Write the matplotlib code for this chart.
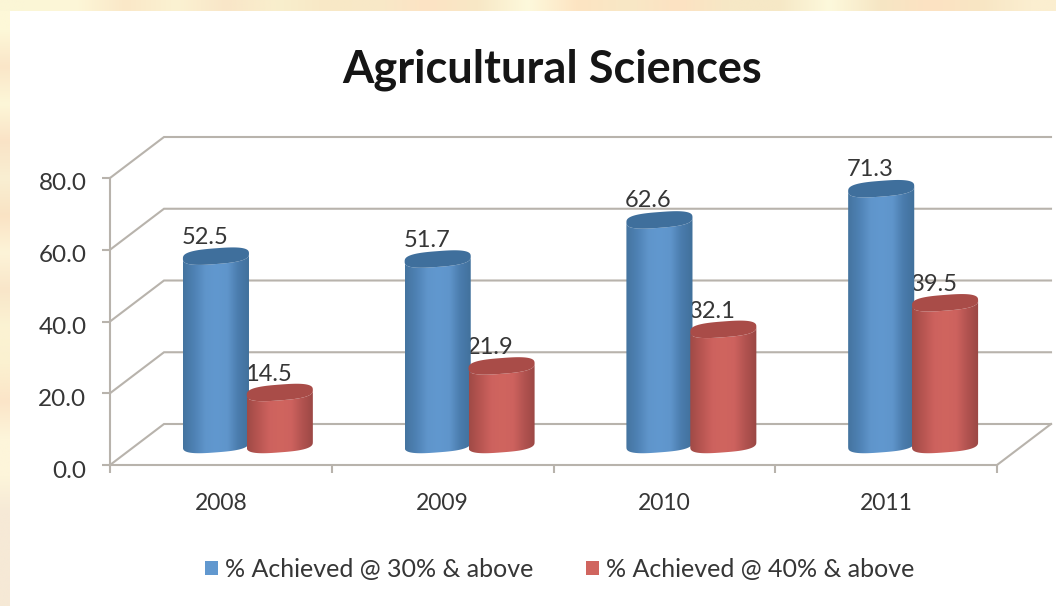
import numpy as np
import matplotlib
matplotlib.use('Agg')
from matplotlib import pyplot as plt
from matplotlib.colors import LinearSegmentedColormap, to_rgb
from matplotlib.patches import Patch, Polygon, Rectangle
from matplotlib.transforms import ScaledTranslation

plt.rcParams['font.family'] = ['Lato', 'DejaVu Sans']

years = ['2008', '2009', '2010', '2011']
achieved_30 = [52.5, 51.7, 62.6, 71.3]
achieved_40 = [14.5, 21.9, 32.1, 39.5]
y_ticks = [0, 20, 40, 60, 80]
series_names = ['% Achieved @ 30% & above', '% Achieved @ 40% & above']

W, H = 1056, 606
GREY = '#b8b3ac'
TEXT = '#363636'
BLUE = ['#44749f', '#4f82b5', '#5f95cb', '#6198cf', '#5f95cb', '#4a7cad', '#41709b']
RED = ['#a04a46', '#b85652', '#cd625e', '#d0655f', '#cd625e', '#b25350', '#9a4744']
BLUE_TOP, RED_TOP = '#3f6f9c', '#a94c48'

# depth of the fake 3d box, in data units
DX = 54 / 221.75
DY = 41 / 3.5875
BAR_W = 0.149    # half width of a cylinder
BAR_GAP = 0.144  # cylinder centre to middle of the pair
ELL = 2.2        # half height of the end ellipses
TILT = 0.7

# backdrop colours read along the top and left edges
top_band = ['#fbf6d6', '#fdf7d8', '#fae8c8', '#fbf2d2', '#f9e6c8', '#f9efcd', '#f8e8c6', '#f8e9c8',
            '#fde3c4', '#f8e8c6', '#fdf9dc', '#fde4c2', '#f8e8c6', '#fde2c2', '#f6e8c6', '#f6e8c6',
            '#fdf9dc', '#f6e6c4', '#fde2c2', '#f8e6c4', '#fbeed0']
left_band = ['#fdf8d8', '#fae6c8', '#fdf7d8', '#fae3c6', '#f9efd2', '#fae3c4', '#fdf4d8', '#f9e6c9',
             '#fbf3d3', '#fbf1d0', '#fbe5c8', '#fdf5da', '#fdf5da', '#f6e9d6', '#f6e9d6', '#f6e9d6']


def ellipse(cx, cy, t):
    # end caps look a bit squarer than a true ellipse
    c, s = np.cos(t), np.sin(t)
    c = np.sign(c) * np.abs(c) ** 0.7
    s = np.sign(s) * np.abs(s) ** 0.7
    return cx + BAR_W * c, cy + ELL * s + TILT * c


def cylinder(ax, cx, val, colors, top, z):
    base = DY / 2
    t = np.linspace(np.pi, 2 * np.pi, 40)
    xb, yb = ellipse(cx, base, t)
    xt, yt = ellipse(cx, base + val, t[::-1])
    body = Polygon(np.column_stack([np.r_[xb, xt], np.r_[yb, yt]]), closed=True,
                   transform=ax.transData, fc='none', ec='none')
    ax.add_patch(body)
    cmap = LinearSegmentedColormap.from_list('c', colors)
    im = ax.imshow(np.linspace(0, 1, 64)[None, :], cmap=cmap, aspect='auto', zorder=z,
                   extent=[cx - BAR_W, cx + BAR_W, base - 5, base + val + 5])
    im.set_clip_path(body)
    t = np.linspace(0, 2 * np.pi, 80)
    xt, yt = ellipse(cx, base + val, t)
    ax.fill(xt, yt, color=top, lw=0, zorder=z + 0.1, clip_on=False)


fig = plt.figure(figsize=(W / 100, H / 100), dpi=100, facecolor='#fbf2d0')

bg = fig.add_axes([0, 0, 1, 1], zorder=-1)
bg.axis('off')
bg.imshow(np.array([to_rgb(c) for c in top_band])[None, :, :], extent=[0, W, H - 11, H],
          aspect='auto', interpolation='bilinear')
bg.imshow(np.array([to_rgb(c) for c in left_band])[:, None, :], extent=[0, 10, 0, H - 11],
          aspect='auto', interpolation='bilinear')
bg.add_patch(Rectangle((10, 0), W - 10, H - 11, fc='white', ec='none'))
bg.set_xlim(0, W)
bg.set_ylim(0, H)

ax = fig.add_axes([110 / W, (H - 465) / H, 887 / W, 287 / H])
ax.patch.set_visible(False)

for v in y_ticks:
    ax.plot([0, DX, 4 + DX], [v, v + DY, v + DY], color=GREY, lw=1.5, clip_on=False, zorder=1,
            solid_joinstyle='miter')
ax.plot([4, 4 + DX], [0, DY], color=GREY, lw=1.5, clip_on=False, zorder=1)

for i in range(len(years)):
    c = i + 0.5 + DX / 2
    ax.text(c + BAR_GAP - 11 / 221.75, achieved_40[i] + DY / 2 + 18 / 3.5875, '%.1f' % achieved_40[i],
            ha='center', va='center', fontsize=17, color=TEXT, zorder=2)
    cylinder(ax, c - BAR_GAP, achieved_30[i], BLUE, BLUE_TOP, 3)
    cylinder(ax, c + BAR_GAP, achieved_40[i], RED, RED_TOP, 4)
    ax.text(c - BAR_GAP - 11 / 221.75, achieved_30[i] + DY / 2 + 19 / 3.5875, '%.1f' % achieved_30[i],
            ha='center', va='center', fontsize=17, color=TEXT, zorder=5)

ax.set_xlim(0, 4)
ax.set_ylim(0, 80)
ax.set_yticks(y_ticks)
ax.set_yticklabels(['%.1f' % v for v in y_ticks], fontsize=17.5, color=TEXT)
ax.set_xticks(range(5))
ax.set_xticklabels([])
ax.set_xticks(np.arange(len(years)) + 0.5, minor=True)
ax.set_xticklabels(years, minor=True, fontsize=16.5, color=TEXT)
ax.tick_params(axis='both', which='major', length=6, width=1.5, color=GREY)
ax.tick_params(axis='y', pad=11)
ax.tick_params(axis='x', which='minor', length=0, pad=20)
# y labels sit a little under their ticks
shift = ScaledTranslation(0, -4 / 100, fig.dpi_scale_trans)
for lab in ax.get_yticklabels():
    lab.set_transform(lab.get_transform() + shift)
for s in ['top', 'right']:
    ax.spines[s].set_visible(False)
for s in ['left', 'bottom']:
    ax.spines[s].set_color(GREY)
    ax.spines[s].set_linewidth(1.5)

fig.text(552 / W, 1 - 70 / H, 'Agricultural Sciences', ha='center', va='center',
         fontsize=32.5, fontweight='bold', color='#151515')

handles = [Patch(color=BLUE[3], lw=0), Patch(color=RED[3], lw=0)]
fig.legend(handles, series_names, ncol=2, frameon=False, fontsize=18, labelcolor=TEXT,
           loc='center', bbox_to_anchor=(560 / W, 1 - 569 / H), handlelength=0.5, handleheight=0.5,
           handletextpad=0.3, columnspacing=2.1)

fig.savefig('out.png', dpi=100)
